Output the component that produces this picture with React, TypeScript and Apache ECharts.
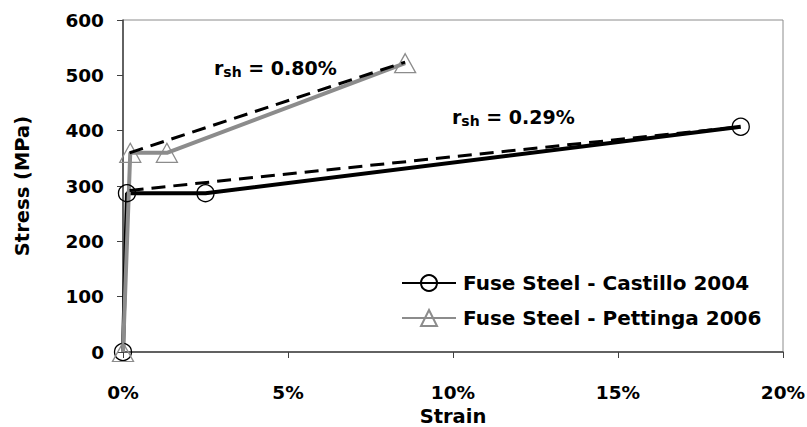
import React, { useEffect, useRef } from "react";
import * as echarts from "echarts";

const castilloStrain = [0, 0.12, 2.5, 18.72];
const castilloStress = [0, 287, 287, 407];
const pettingaStrain = [0, 0.22, 1.33, 8.55];
const pettingaStress = [0, 360, 360, 522];
const castilloFitStrain = [0.2, 18.72];
const castilloFitStress = [292, 407];
const pettingaFitStrain = [0.2, 8.55];
const pettingaFitStress = [360, 524];
const xTicks = [0, 5, 10, 15, 20];
const yTicks = [0, 100, 200, 300, 400, 500, 600];

const FONT = "'DejaVu Sans', 'Liberation Sans', Arial, sans-serif";

function pairs(xs: number[], ys: number[]) {
  return xs.map((x, i) => [x, ys[i]]);
}

export default function App() {
  const ref = useRef<HTMLDivElement>(null);
  useEffect(() => {
    if (!ref.current) return;
    const chart = echarts.init(ref.current, null, { renderer: "svg" });
    const rich = {
      r: { fontFamily: FONT, fontWeight: "bold", fontSize: 19, fill: "#000" },
      s: { fontFamily: FONT, fontWeight: "bold", fontSize: 14, fill: "#000", padding: [9, 0, 0, 0] },
    };
    chart.setOption({
      animation: false,
      backgroundColor: "#ffffff",
      textStyle: { fontFamily: FONT },
      grid: {
        left: 123,
        top: 20,
        right: 24,
        bottom: 75,
        containLabel: false,
        outerBoundsMode: "none",
        show: true,
        borderColor: "#8c8c8c",
        borderWidth: 1,
        backgroundColor: "#ffffff",
      },
      legend: {
        orient: "vertical",
        left: 396,
        top: 268,
        itemWidth: 54,
        itemHeight: 20,
        itemGap: 15,
        data: [
          { name: "Fuse Steel - Castillo 2004" },
          { name: "Fuse Steel - Pettinga 2006" },
        ],
        textStyle: {
          fontFamily: FONT,
          fontWeight: "bold",
          fontSize: 20,
          color: "#000000",
          padding: [0, 0, 0, 2],
        },
      },
      xAxis: {
        type: "value",
        min: xTicks[0],
        max: xTicks[xTicks.length - 1],
        interval: 5,
        name: "Strain",
        nameLocation: "middle",
        nameGap: 54,
        nameTextStyle: { fontFamily: FONT, fontWeight: "bold", fontSize: 19.5, color: "#000" },
        axisLine: { show: true, lineStyle: { color: "#404040", width: 1.5 } },
        axisTick: { show: true, inside: false, length: 6, lineStyle: { color: "#404040" } },
        axisLabel: {
          formatter: (v: number) => v + "%",
          fontFamily: FONT,
          fontWeight: "bold",
          fontSize: 18.5,
          color: "#000",
          margin: 31,
        },
        splitLine: { show: false },
      },
      yAxis: {
        type: "value",
        min: yTicks[0],
        max: yTicks[yTicks.length - 1],
        interval: 100,
        name: "Stress (MPa)",
        nameLocation: "middle",
        nameGap: 91,
        nameRotate: 90,
        nameTextStyle: { fontFamily: FONT, fontWeight: "bold", fontSize: 19.5, color: "#000" },
        axisLine: { show: true, lineStyle: { color: "#404040", width: 1.5 } },
        axisTick: { show: true, inside: false, length: 6, lineStyle: { color: "#404040" } },
        axisLabel: {
          fontFamily: FONT,
          fontWeight: "bold",
          fontSize: 18.5,
          color: "#000",
          margin: 19,
        },
        splitLine: { show: false },
      },
      series: [
        {
          name: "Fuse Steel - Castillo 2004",
          type: "line",
          data: pairs(castilloStrain, castilloStress),
          symbol: "circle",
          symbolSize: 17,
          lineStyle: { color: "#000000", width: 4 },
          itemStyle: { color: "rgba(255,255,255,0)", borderColor: "#000000", borderWidth: 1.3 },
          z: 3,
        },
        {
          name: "Fuse Steel - Pettinga 2006",
          type: "line",
          data: pairs(pettingaStrain, pettingaStress),
          symbol: "triangle",
          symbolSize: [21, 19],
          lineStyle: { color: "#8c8c8c", width: 4 },
          itemStyle: { color: "rgba(255,255,255,0)", borderColor: "#8c8c8c", borderWidth: 1.3 },
          z: 3,
        },
        {
          name: "fitCastillo",
          type: "line",
          data: pairs(castilloFitStrain, castilloFitStress),
          symbol: "none",
          lineStyle: { color: "#000000", width: 3, type: [14, 8] },
          z: 4,
        },
        {
          name: "fitPettinga",
          type: "line",
          data: pairs(pettingaFitStrain, pettingaFitStress),
          symbol: "none",
          lineStyle: { color: "#000000", width: 3, type: [14, 8] },
          z: 4,
        },
      ],
      graphic: [
        {
          type: "text",
          left: 214,
          top: 58,
          style: { text: "{r|r}{s|sh}{r| = 0.80%}", rich },
        },
        {
          type: "text",
          left: 452,
          top: 107,
          style: { text: "{r|r}{s|sh}{r| = 0.29%}", rich },
        },
      ],
    });
    return () => chart.dispose();
  }, []);
  return <div ref={ref} style={{ width: 807, height: 427, position: "absolute", left: 0, top: 0 }} />;
}
